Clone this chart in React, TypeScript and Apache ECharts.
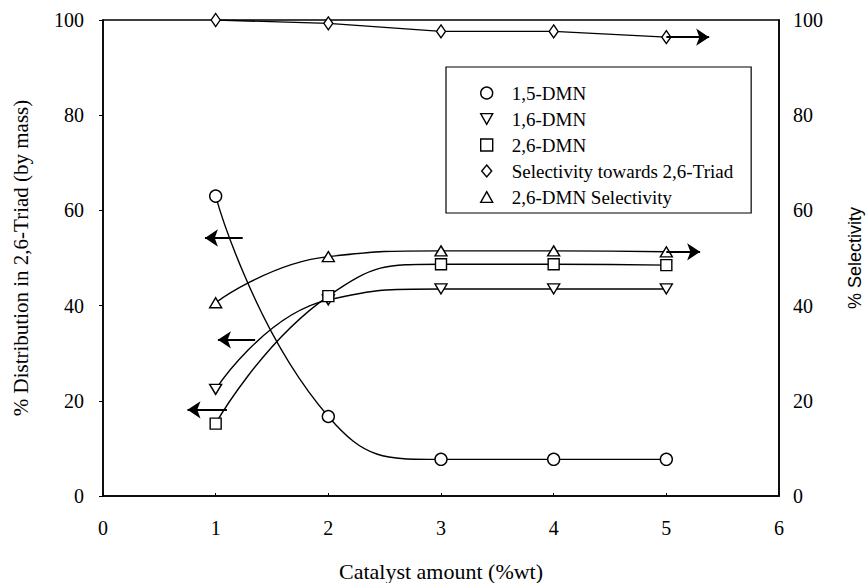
import React, { useEffect, useRef } from "react";
import * as echarts from "echarts";

const catalyst = [1, 2, 3, 4, 5];
const dmn15 = [63.0, 16.7, 7.7, 7.7, 7.7];
const dmn16 = [22.4, 41.2, 43.5, 43.5, 43.5];
const dmn26 = [15.2, 42.0, 48.7, 48.7, 48.5];
const selTriad = [100, 99.3, 97.6, 97.6, 96.4];
const selDmn26 = [40.6, 50.3, 51.5, 51.5, 51.3];

const xTicks = [0, 1, 2, 3, 4, 5, 6];
const yTicks = [0, 20, 40, 60, 80, 100];

// annotation arrows: [fromX, y, toX]
const leftArrows = [
  [1.24, 54.2, 0.905],
  [1.35, 32.8, 1.02],
  [1.1, 18.1, 0.75],
];
const rightArrows = [
  [5.0, 51.3, 5.3],
  [5.0, 96.4, 5.38],
];

const names = [
  "1,5-DMN",
  "1,6-DMN",
  "2,6-DMN",
  "Selectivity towards 2,6-Triad",
  "2,6-DMN Selectivity",
];

const FONT = "Liberation Serif";
const SANS = "Liberation Sans";

function pairs(vals: number[]) {
  return catalyst.map((x, i) => [x, vals[i]]);
}

function arrowLines(list: number[][]) {
  return list.map((a) => [
    { coord: [a[0], a[1]], symbol: "none" },
    { coord: [a[2], a[1]], symbol: "arrow" },
  ]);
}

const hollow = { color: "#fff", borderColor: "#000", borderWidth: 1.4 };
const lineSt = { color: "#000", width: 1.4 };

export default function App() {
  const ref = useRef<HTMLDivElement>(null);
  useEffect(() => {
    const chart = echarts.init(ref.current as HTMLDivElement, null, { renderer: "svg" });
    const axisLabel = { color: "#000", fontFamily: FONT, fontSize: 20 };
    const markArrow = (list: number[][]) => ({
      silent: true,
      symbolSize: 13,
      label: { show: false },
      lineStyle: { color: "#000", width: 2, type: "solid" },
      itemStyle: { color: "#000" },
      data: arrowLines(list),
    });
    const option: any = {
      animation: false,
      backgroundColor: "#fff",
      grid: {
        left: 103,
        right: 89,
        top: 20,
        bottom: 87,
        containLabel: false,
        outerBoundsMode: "none",
        show: true,
        borderColor: "#000",
        borderWidth: 1.5,
      },
      legend: {
        orient: "vertical",
        left: 446,
        top: 67,
        selectedMode: false,
        borderColor: "#000",
        borderWidth: 1.2,
        padding: [16, 18, 6, 34],
        itemWidth: 12,
        itemHeight: 12,
        itemGap: 6,
        textStyle: {
          color: "#000",
          fontFamily: FONT,
          fontSize: 19,
          lineHeight: 20,
          padding: [0, 0, 0, 14],
        },
        data: [
          { name: names[0], icon: "circle", itemStyle: hollow },
          { name: names[1], icon: "path://M0,0L10,0L5,9Z", itemStyle: hollow },
          { name: names[2], icon: "rect", itemStyle: hollow },
          { name: names[3], icon: "path://M5,0L10,6L5,12L0,6Z", itemStyle: hollow },
          { name: names[4], icon: "path://M5,0L10,9L0,9Z", itemStyle: hollow },
        ],
      },
      xAxis: {
        type: "value",
        min: 0,
        max: 6,
        interval: 1,
        name: "Catalyst amount (%wt)",
        nameLocation: "middle",
        nameGap: 64,
        nameTextStyle: { color: "#000", fontFamily: FONT, fontSize: 22 },
        axisLine: { show: true, lineStyle: { color: "#000", width: 1.5 } },
        axisTick: { show: true, inside: true, length: 3, lineStyle: { color: "#000" } },
        axisLabel: { ...axisLabel, margin: 22, formatter: (v: number) => (xTicks.includes(v) ? String(v) : "") },
        splitLine: { show: false },
      },
      yAxis: [
        {
          type: "value",
          min: 0,
          max: 100,
          interval: 20,
          position: "left",
          name: "% Distribution in 2,6-Triad (by mass)",
          nameLocation: "middle",
          nameRotate: 90,
          nameGap: 72,
          nameTextStyle: { color: "#000", fontFamily: FONT, fontSize: 21 },
          axisLine: { show: true, lineStyle: { color: "#000", width: 1.5 } },
          axisTick: { show: true, length: 4, lineStyle: { color: "#000" } },
          axisLabel: { ...axisLabel, margin: 19, formatter: (v: number) => (yTicks.includes(v) ? String(v) : "") },
          splitLine: { show: false },
        },
        {
          type: "value",
          min: 0,
          max: 100,
          interval: 20,
          position: "right",
          name: "% Selectivity",
          nameLocation: "middle",
          nameRotate: 90,
          nameGap: 67,
          nameTextStyle: { color: "#000", fontFamily: SANS, fontSize: 18 },
          axisLine: { show: true, lineStyle: { color: "#000", width: 1.5 } },
          axisTick: { show: false },
          axisLabel: { ...axisLabel, margin: 14 },
          splitLine: { show: false },
        },
      ],
      series: [
        {
          name: names[0],
          type: "line",
          yAxisIndex: 0,
          data: pairs(dmn15),
          smooth: 0.5,
          symbol: "circle",
          symbolSize: 12,
          lineStyle: lineSt,
          itemStyle: hollow,
          markLine: markArrow(leftArrows),
        },
        {
          name: names[1],
          type: "line",
          yAxisIndex: 0,
          data: pairs(dmn16),
          smooth: 0.5,
          symbol: "triangle",
          symbolRotate: 180,
          symbolSize: [12, 10],
          lineStyle: lineSt,
          itemStyle: hollow,
        },
        {
          name: names[2],
          type: "line",
          yAxisIndex: 0,
          data: pairs(dmn26),
          smooth: 0.5,
          symbol: "rect",
          symbolSize: 11,
          lineStyle: lineSt,
          itemStyle: hollow,
        },
        {
          name: names[3],
          type: "line",
          yAxisIndex: 1,
          data: pairs(selTriad),
          symbol: "diamond",
          symbolSize: [9, 13],
          lineStyle: lineSt,
          itemStyle: hollow,
          markLine: markArrow(rightArrows.slice(1)),
        },
        {
          name: names[4],
          type: "line",
          yAxisIndex: 1,
          data: pairs(selDmn26),
          smooth: 0.5,
          symbol: "triangle",
          symbolSize: [12, 10],
          lineStyle: lineSt,
          itemStyle: hollow,
          markLine: markArrow(rightArrows.slice(0, 1)),
        },
      ],
    };
    chart.setOption(option);
    return () => chart.dispose();
  }, []);
  return (
    <div
      ref={ref}
      style={{ position: "fixed", left: 0, top: 0, width: 868, height: 583, background: "#fff" }}
    />
  );
}
